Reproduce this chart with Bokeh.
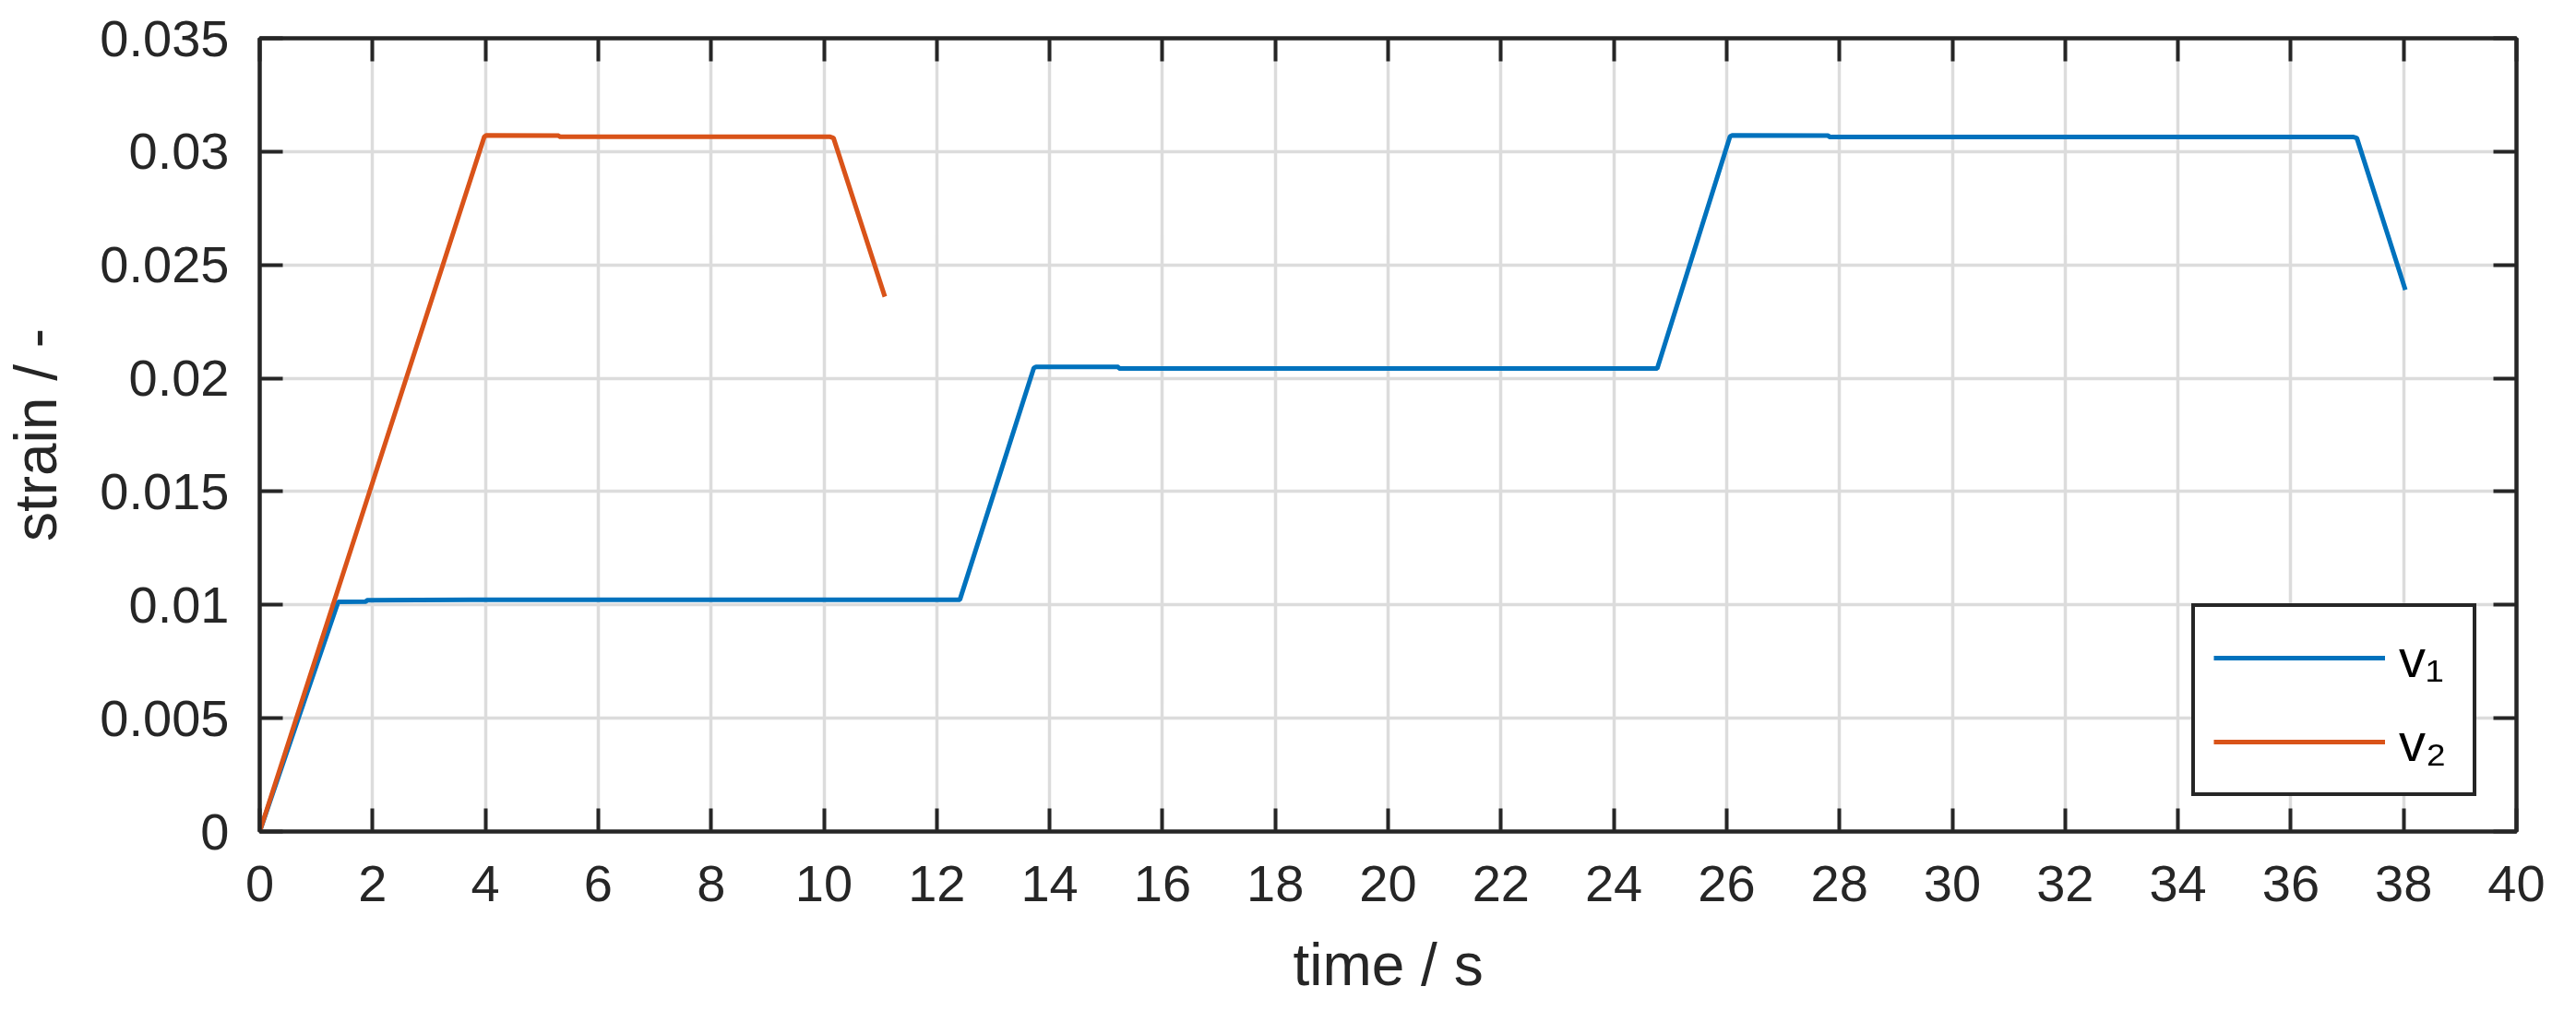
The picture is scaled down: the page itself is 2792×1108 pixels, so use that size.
from bokeh.plotting import figure
from bokeh.models import Range1d, FixedTicker, LinearAxis, Legend, LegendItem
from bokeh.embed import file_html
from bokeh.resources import INLINE

# ---- data ----
v1_time = [0, 1.39, 1.88, 1.9, 4.06, 12.41, 13.72, 13.76, 15.22, 15.23, 24.77, 26.06, 26.1, 27.8, 27.82, 37.1, 37.17, 38.03]
v1_strain = [0, 0.01013, 0.01014, 0.0102, 0.01023, 0.01023, 0.02045, 0.0205, 0.0205, 0.02043, 0.02043, 0.03067, 0.03072, 0.03071, 0.03065, 0.03065, 0.0306, 0.0239]

v2_time = [0, 3.98, 4.02, 5.3, 5.31, 10.1, 10.17, 11.08]
v2_strain = [0, 0.03065, 0.03072, 0.03071, 0.03066, 0.03066, 0.0306, 0.0236]

x_ticks = list(range(0, 41, 2))
y_ticks = [0, 0.005, 0.01, 0.015, 0.02, 0.025, 0.03, 0.035]
y_tick_labels = ["0", "0.005", "0.01", "0.015", "0.02", "0.025", "0.03", "0.035"]
series_labels = ["v\u2081", "v\u2082"]
series_colors = ["#0072BD", "#D95319"]

FONT = "Liberation Sans"
DARK = "#262626"

p = figure(frame_width=2446, frame_height=860,
           x_range=Range1d(0, 40), y_range=Range1d(0, 0.035),
           output_backend="svg", toolbar_location=None,
           min_border_left=277, min_border_right=40,
           min_border_top=41, min_border_bottom=180,
           background_fill_color="white", border_fill_color="white")

p.outline_line_color = DARK
p.outline_line_width = 4

xt = FixedTicker(ticks=x_ticks)
yt = FixedTicker(ticks=y_ticks)

def style_axis(ax, ticker):
    ax.ticker = ticker
    ax.axis_line_color = DARK
    ax.axis_line_width = 4
    ax.major_tick_line_color = DARK
    ax.major_tick_line_width = 4
    ax.major_tick_in = 25
    ax.major_tick_out = 0
    ax.minor_tick_line_color = None
    ax.major_label_text_color = DARK
    ax.major_label_text_font = FONT
    ax.major_label_text_font_size = "56px"
    ax.axis_label_text_color = DARK
    ax.axis_label_text_font = FONT
    ax.axis_label_text_font_size = "64px"
    ax.axis_label_text_font_style = "normal"

xa = p.xaxis[0]
style_axis(xa, xt)
xa.axis_label = "time / s"
xa.major_label_standoff = 37
xa.axis_label_standoff = 30

ya = p.yaxis[0]
style_axis(ya, yt)
ya.axis_label = "strain / -"
ya.major_label_standoff = 33
ya.axis_label_standoff = 30
ya.major_label_overrides = {t: s for t, s in zip(y_ticks, y_tick_labels)}

# tick marks only (no labels) on the top and right, as in a boxed axes
top = LinearAxis()
style_axis(top, xt)
top.major_label_text_color = None
top.major_label_text_font_size = "2px"
top.major_label_standoff = 0
p.add_layout(top, "above")

right = LinearAxis()
style_axis(right, yt)
right.major_label_text_color = None
right.major_label_text_font_size = "2px"
right.major_label_standoff = 0
p.add_layout(right, "right")

for g, t in ((p.xgrid[0], xt), (p.ygrid[0], yt)):
    g.ticker = t
    g.grid_line_color = "#dcdcdc"
    g.grid_line_width = 3.5

r1 = p.line(v1_time, v1_strain, line_color=series_colors[0], line_width=5)
r2 = p.line(v2_time, v2_strain, line_color=series_colors[1], line_width=5)

legend = Legend(items=[LegendItem(label=series_labels[0], renderers=[r1]),
                       LegendItem(label=series_labels[1], renderers=[r2])],
                location=(2094, 38), margin=0, padding=20, spacing=21,
                glyph_width=186, glyph_height=70, label_height=70, label_width=60,
                label_standoff=15, label_text_font=FONT, label_text_font_size="58px",
                label_text_color="black",
                border_line_color=DARK, border_line_width=4, border_line_alpha=1.0,
                background_fill_color="white", background_fill_alpha=1.0)
p.add_layout(legend)

open("out.html", "w").write(file_html(p, INLINE))
